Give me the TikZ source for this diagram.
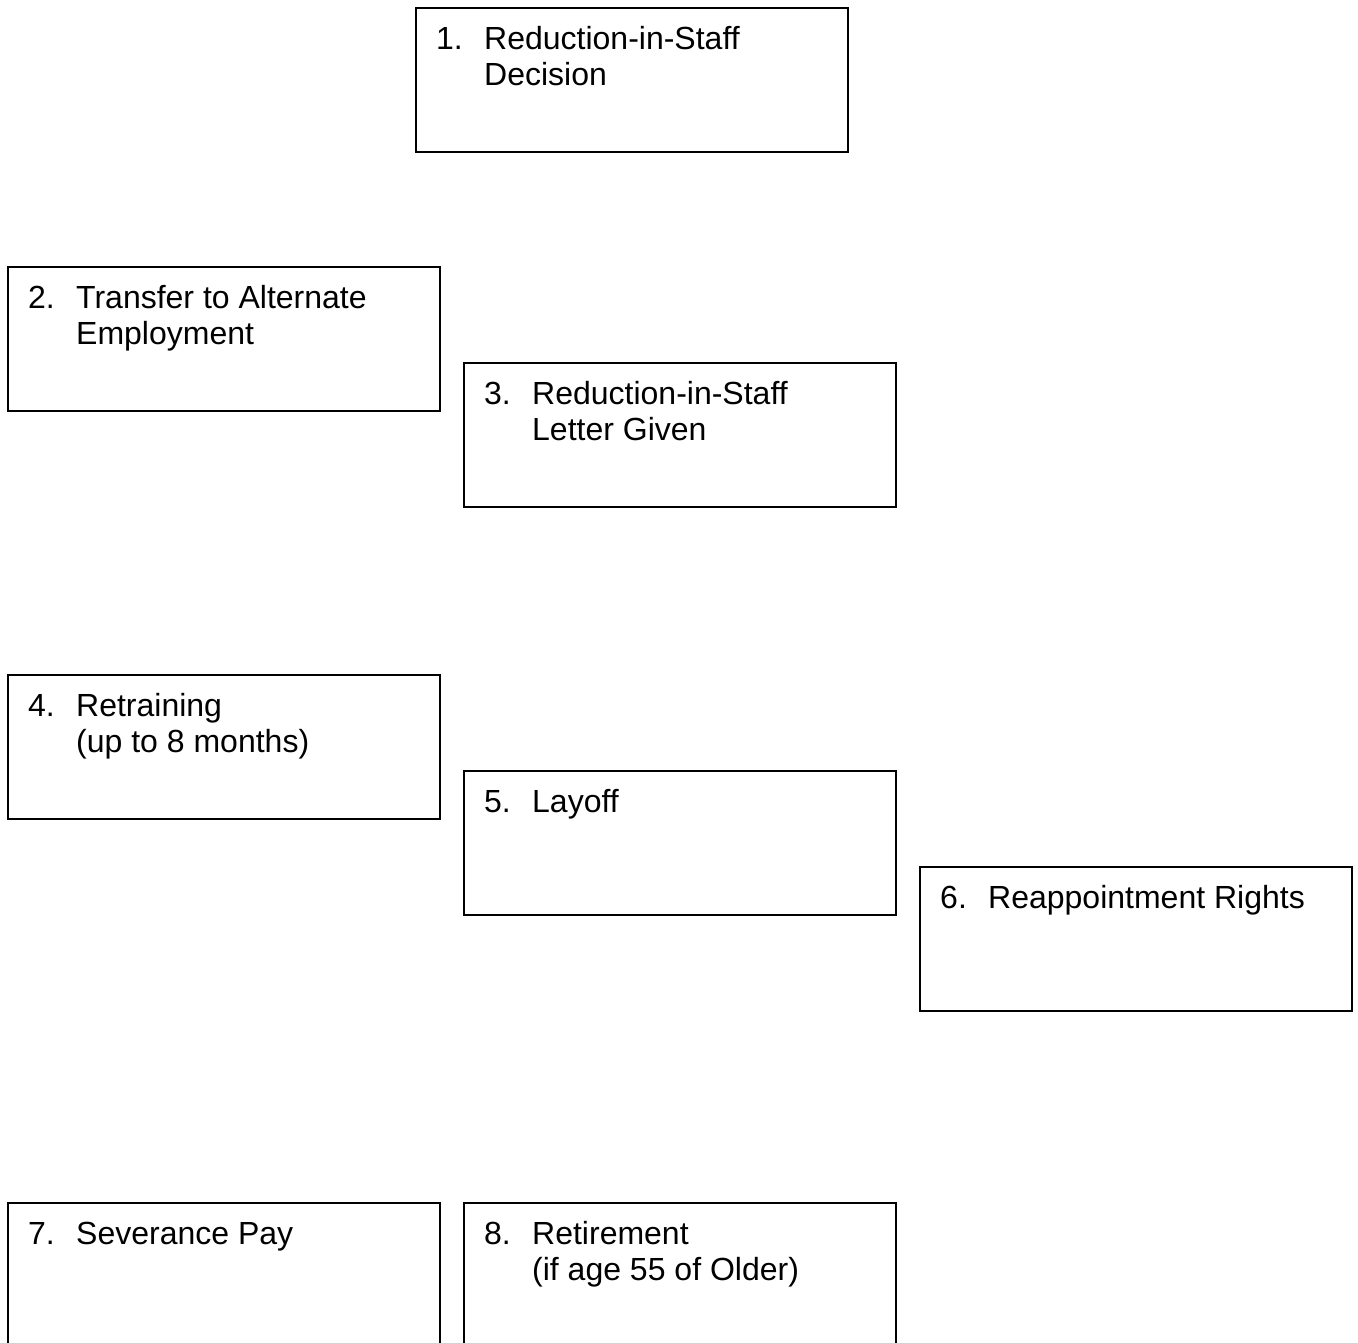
\documentclass[tikz,border=0pt]{standalone}
\usepackage{fontspec}
\setmainfont{Liberation Sans}
\usetikzlibrary{calc}
\begin{document}
\begin{tikzpicture}[x=1pt,y=-1pt,
  stepbox/.style={draw, line width=1.5pt, minimum width=432pt, minimum height=144pt, inner sep=0pt, outer sep=0pt, anchor=north west},
  lbl/.style={anchor=base west, inner sep=0pt, font=\fontsize{32}{36}\selectfont}]
\clip (0,0) rectangle (1358,1342);
\fill[white] (0,0) rectangle (1358,1342);
% boxes
\node[stepbox] (b1) at (416,8) {};
\node[stepbox] (b2) at (8,267) {};
\node[stepbox] (b3) at (464,363) {};
\node[stepbox] (b4) at (8,675) {};
\node[stepbox] (b5) at (464,771) {};
\node[stepbox] (b6) at (920,867) {};
\node[stepbox] (b7) at (8,1203) {};
\node[stepbox] (b8) at (464,1203) {};
% labels
\node[lbl] (n1) at ($(b1.north west)+(20,41.5)$) {1.};
\node[lbl] (t1a) at ($(b1.north west)+(68,41.5)$) {Reduction-in-Staff};
\node[lbl] (t1b) at ($(b1.north west)+(68,77.5)$) {Decision};
\node[lbl] (n2) at ($(b2.north west)+(20,41.5)$) {2.};
\node[lbl] (t2a) at ($(b2.north west)+(68,41.5)$) {Transfer to Alternate};
\node[lbl] (t2b) at ($(b2.north west)+(68,77.5)$) {Employment};
\node[lbl] (n3) at ($(b3.north west)+(20,41.5)$) {3.};
\node[lbl] (t3a) at ($(b3.north west)+(68,41.5)$) {Reduction-in-Staff};
\node[lbl] (t3b) at ($(b3.north west)+(68,77.5)$) {Letter Given};
\node[lbl] (n4) at ($(b4.north west)+(20,41.5)$) {4.};
\node[lbl] (t4a) at ($(b4.north west)+(68,41.5)$) {Retraining};
\node[lbl] (t4b) at ($(b4.north west)+(68,77.5)$) {(up to 8 months)};
\node[lbl] (n5) at ($(b5.north west)+(20,41.5)$) {5.};
\node[lbl] (t5a) at ($(b5.north west)+(68,41.5)$) {Layoff};
\node[lbl] (n6) at ($(b6.north west)+(20,41.5)$) {6.};
\node[lbl] (t6a) at ($(b6.north west)+(68,41.5)$) {Reappointment Rights};
\node[lbl] (n7) at ($(b7.north west)+(20,41.5)$) {7.};
\node[lbl] (t7a) at ($(b7.north west)+(68,41.5)$) {Severance Pay};
\node[lbl] (n8) at ($(b8.north west)+(20,41.5)$) {8.};
\node[lbl] (t8a) at ($(b8.north west)+(68,41.5)$) {Retirement};
\node[lbl] (t8b) at ($(b8.north west)+(68,77.5)$) {(if age 55 of Older)};
\end{tikzpicture}
\end{document}
